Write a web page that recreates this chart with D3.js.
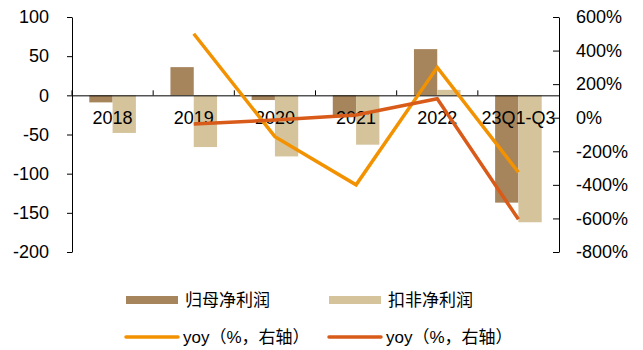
<!DOCTYPE html>
<html><head><meta charset="utf-8">
<script src="https://cdn.jsdelivr.net/npm/d3@7"></script>
<style>body{margin:0;background:#fff;}svg{display:block;}</style>
</head><body>
<svg id="c" width="643" height="350"></svg>
<script>
const categories = ["2018","2019","2020","2021","2022","23Q1-Q3"];
const parentProfit = [-9, 36, -6, -28, 59, -137];
const deductedProfit = [-48, -66, -78, -63, 7, -162];
const parentYoy = [null, 500, -113, -400, 300, -325];
const deductedYoy = [null, -37, -14, 16, 113, -605];
const leftTicks = [100, 50, 0, -50, -100, -150, -200];
const rightTicks = [600, 400, 200, 0, -200, -400, -600, -800];
const seriesNames = ["归母净利润", "扣非净利润", "yoy（%，右轴）", "yoy（%，右轴）"];

const colors = ["#A6845C", "#D5C49B", "#F39200", "#D95B1A"];
const svg = d3.select("#c");
const L = 72, R = 559, T = 17, B = 252;
const x = d3.scaleBand().domain(categories).range([L, R]);
const yL = d3.scaleLinear().domain([-200, 100]).range([B, T]);
const yR = d3.scaleLinear().domain([-800, 600]).range([B, T]);
const font = "'Liberation Sans', Arial, sans-serif";
const fs = 18;
const barW = 23.3;

// bars
[parentProfit, deductedProfit].forEach((vals, si) => {
  svg.append("g").selectAll("rect").data(vals).join("rect")
    .attr("x", (d, i) => x.bandwidth()/2 + x(categories[i]) - barW + si*barW)
    .attr("width", barW)
    .attr("y", d => yL(Math.max(0, d)))
    .attr("height", d => Math.abs(yL(d) - yL(0)))
    .attr("fill", colors[si]);
});

// left axis
const gl = svg.append("g").attr("transform", `translate(${L},0)`)
  .call(d3.axisLeft(yL).tickValues(leftTicks).tickFormat(d => String(d)).tickSize(5).tickSizeOuter(0));
gl.select(".domain").attr("stroke", "#000");
gl.selectAll("text").attr("font-family", font).attr("font-size", fs).attr("fill", "#000").attr("x", -23);

// right axis (ticks inward)
const gr = svg.append("g").attr("transform", `translate(${R},0)`)
  .call(d3.axisLeft(yR).tickValues(rightTicks).tickFormat(d => String(d) + "%").tickSize(6).tickSizeOuter(0));
gr.select(".domain").attr("stroke", "#000");
gr.selectAll("text").attr("font-family", font).attr("font-size", fs).attr("fill", "#000")
  .attr("text-anchor", "start").attr("x", 17);

// zero category axis
const gx = svg.append("g").attr("transform", `translate(0,${yL(0)})`)
  .call(d3.axisTop(x).tickSize(0).tickSizeOuter(0));
gx.select(".domain").attr("stroke", "#000");
gx.selectAll("text").remove();
const bounds = categories.map(c => x(c));
svg.append("g").selectAll("line").data(bounds).join("line")
  .attr("x1", d => d).attr("x2", d => d)
  .attr("y1", yL(0)).attr("y2", yL(0) - 5).attr("stroke", "#000");
svg.append("g").selectAll("text").data(categories).join("text")
  .attr("x", d => x(d) + x.bandwidth()/2).attr("y", yL(0) + 29)
  .attr("text-anchor", "middle").attr("font-family", font).attr("font-size", fs)
  .attr("fill", "#000").text(d => d);

// lines
[parentYoy, deductedYoy].forEach((vals, si) => {
  const line = d3.line()
    .defined(d => d !== null)
    .x((d, i) => x(categories[i]) + x.bandwidth()/2)
    .y(d => yR(d));
  svg.append("path").datum(vals).attr("d", line)
    .attr("fill", "none").attr("stroke", colors[si + 2]).attr("stroke-width", 3.5)
    .attr("stroke-linejoin", "miter");
});

// legend
const leg = [
  {x: 126, y: 300, type: "rect", c: colors[0], t: seriesNames[0]},
  {x: 329, y: 300, type: "rect", c: colors[1], t: seriesNames[1]},
  {x: 126, y: 337, type: "line", c: colors[2], t: seriesNames[2]},
  {x: 329, y: 337, type: "line", c: colors[3], t: seriesNames[3]}
];
leg.forEach(l => {
  if (l.type === "rect") {
    svg.append("rect").attr("x", l.x).attr("y", l.y - 4).attr("width", 52).attr("height", 8).attr("fill", l.c);
  } else {
    svg.append("line").attr("x1", l.x).attr("x2", l.x + 52).attr("y1", l.y).attr("y2", l.y)
      .attr("stroke", l.c).attr("stroke-width", 3.5).attr("stroke-linecap", "round");
  }
  svg.append("text").attr("x", l.x + (l.type === "rect" ? 59 : 57)).attr("y", l.y + 6)
    .attr("font-family", "'Liberation Sans', 'Noto Sans CJK SC', sans-serif").attr("font-size", 17)
    .attr("fill", "#000").text(l.t);
});
</script>
</body></html>
